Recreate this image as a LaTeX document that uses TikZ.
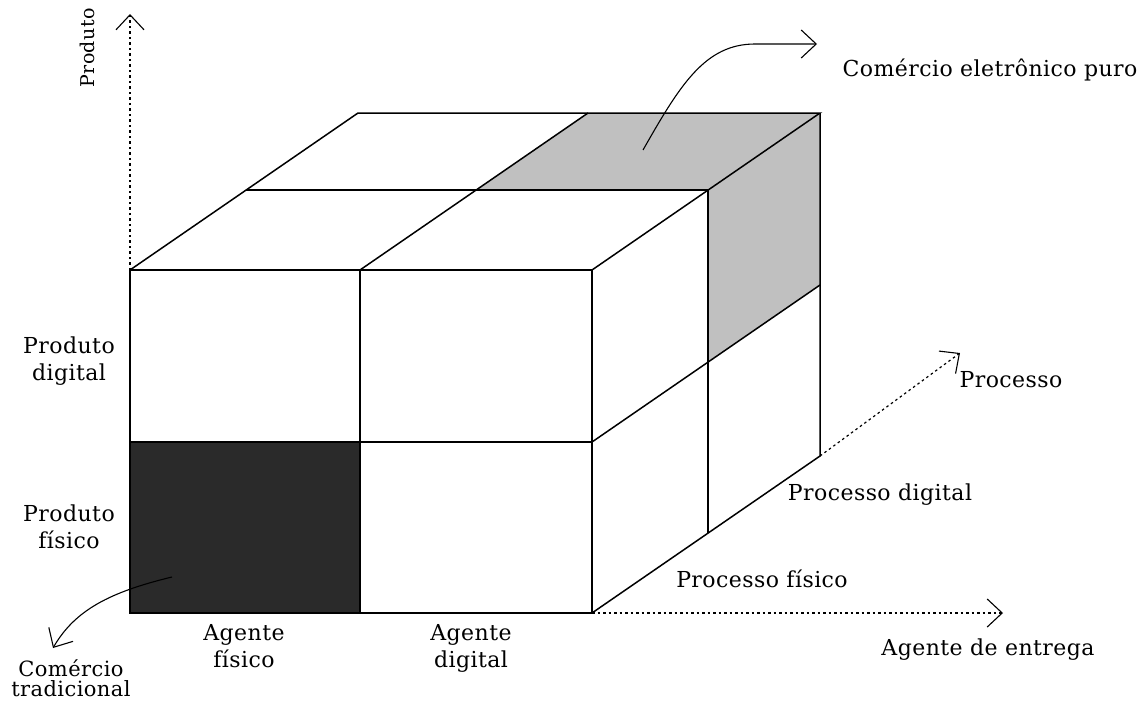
\documentclass[tikz,border=0pt]{standalone}
\usepackage{fontspec}
\setmainfont[LetterSpace=2]{DejaVu Serif}
\usetikzlibrary{arrows.meta}
\definecolor{cellgray}{RGB}{192,192,192}
\definecolor{celldark}{RGB}{42,42,42}
\begin{document}
\begin{tikzpicture}[x=1pt,y=-1pt,
  edge/.style={line width=1.5pt, line join=miter},
  barb/.style={-{Straight Barb[length=15pt,width=28pt,line width=1.1pt]}},
  axis/.style={barb, line width=1.2pt, dash pattern=on 2.5pt off 3pt},
  callout/.style={barb, line width=1.1pt},
  lbl/.style={font=\fontsize{22}{27}\selectfont, align=center, inner sep=0pt}]
\useasboundingbox (0,0) rectangle (1143,704);

% lattice points of the cube: front, mid depth, back
\coordinate (f00) at (130,270); \coordinate (f10) at (360,270); \coordinate (f20) at (592,270);
\coordinate (f01) at (130,442); \coordinate (f11) at (360,442); \coordinate (f21) at (592,442);
\coordinate (f02) at (130,613); \coordinate (f12) at (360,613); \coordinate (f22) at (592,613);
\coordinate (m00) at (246,190); \coordinate (m10) at (476,190); \coordinate (m20) at (708,190);
\coordinate (m22) at (708,533);
\coordinate (b00) at (358,113); \coordinate (b10) at (588,113); \coordinate (b20) at (820,113);
\coordinate (b21) at (820,285); \coordinate (b22) at (820,456);
\coordinate (m21) at (708,362);

% shaded cells
\fill[cellgray] (m10) -- (m20) -- (b20) -- (b10) -- cycle;
\fill[cellgray] (m20) -- (b20) -- (b21) -- (m21) -- cycle;
\fill[celldark] (f01) rectangle (f12);

% front face
\draw[edge] (f00) rectangle (f22);
\draw[edge] (f10) -- (f12);
\draw[edge] (f01) -- (f21);
% top face
\draw[edge] (f00) -- (b00) -- (b20) -- (f20);
\draw[edge] (f10) -- (b10);
\draw[edge] (m00) -- (m20);
% right face
\draw[edge] (b20) -- (b22) -- (f22);
\draw[edge] (m20) -- (m22);
\draw[edge] (f21) -- (b21);

% axes
\coordinate (ytip) at (130,14);
\coordinate (xtip) at (1003,613);
\coordinate (ztip) at (960,353);
\draw[axis] (f00) -- (ytip);
\draw[axis] (f22) -- (xtip);
\draw[axis] (b22) -- (ztip);

% callout arrows
\coordinate (pureA) at (643,150);
\coordinate (pureB) at (817,44);
\draw[callout] (pureA) .. controls (680,85) and (705,44) .. (755,44) -- (pureB);
\coordinate (tradA) at (172,577);
\coordinate (tradB) at (53,648);
\draw[callout] (tradA) .. controls (110,592) and (75,610) .. (tradB);

% labels
\node[lbl, rotate=90, font=\fontsize{19}{24}\selectfont] (lprod) at (87,48) {Produto};
\node[lbl] (lpd) at (69,361) {Produto\\digital};
\node[lbl] (lpf) at (69,527) {Produto\\físico};
\node[lbl] (laf) at (244,646) {Agente\\físico};
\node[lbl] (lad) at (471,648) {Agente\\digital};
\node[lbl] (lprd) at (880,495) {Processo digital};
\node[lbl] (lprf) at (762,579) {Processo físico};
\node[lbl] (lproc) at (1011,380) {Processo};
\node[lbl] (lent) at (988,650) {Agente de entrega};
\node[lbl] (lpuro) at (990,70) {Comércio eletrônico puro};
\node[lbl, font=\fontsize{21}{20}\selectfont] (ltrad) at (71,678) {Comércio\\tradicional};
\end{tikzpicture}
\end{document}
